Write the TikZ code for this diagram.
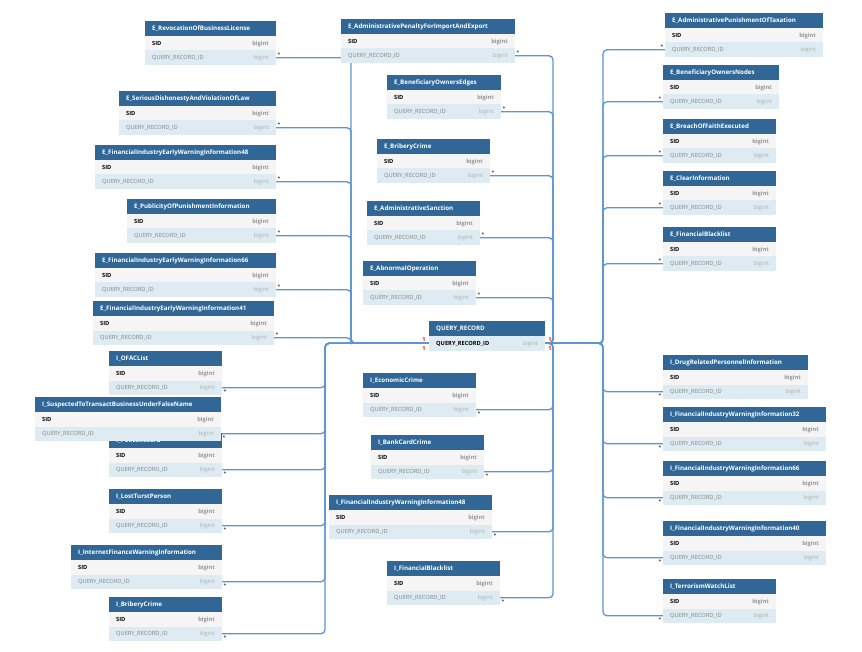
\documentclass[tikz,border=0pt]{standalone}
\usepackage{fontspec}
\setmainfont{Open Sans}
\definecolor{hdrblue}{RGB}{49,103,150}
\definecolor{sidgray}{RGB}{245,245,245}
\definecolor{qrblue}{RGB}{222,235,243}
\definecolor{linkblue}{RGB}{92,150,208}
\definecolor{typegray}{RGB}{150,150,150}
\definecolor{typegray2}{RGB}{175,175,175}
\definecolor{fkgray}{RGB}{130,130,130}
\pgfdeclarelayer{background}
\pgfsetlayers{background,main}
\tikzset{
  hdrbox/.style={fill=hdrblue, anchor=north west, minimum height=15pt, inner sep=0pt, outer sep=0pt},
  sidbox/.style={fill=sidgray, anchor=north west, minimum height=14.5pt, inner sep=0pt, outer sep=0pt},
  qrbox/.style={fill=qrblue, anchor=north west, minimum height=14.5pt, inner sep=0pt, outer sep=0pt},
  htext/.style={anchor=west, xshift=7pt, inner sep=0pt, text=white, text height=4.5pt, text depth=0pt, font=\fontsize{6.2}{7}\selectfont\bfseries},
  ktext/.style={anchor=west, xshift=7pt, inner sep=0pt, text=black, text height=4.1pt, text depth=0pt, font=\fontsize{5.7}{6}\selectfont\bfseries},
  ftext/.style={anchor=west, xshift=7pt, inner sep=0pt, text=fkgray, text height=4.1pt, text depth=0pt, font=\fontsize{5.7}{6}\selectfont},
  ttext/.style={anchor=east, xshift=-7pt, inner sep=0pt, text=typegray, text height=4.1pt, text depth=0pt, font=\fontsize{5.7}{6}\selectfont\bfseries},
  ttextb/.style={anchor=east, xshift=-7pt, inner sep=0pt, text=typegray2, text height=4.1pt, text depth=0pt, font=\fontsize{5.7}{6}\selectfont},
  conn/.style={draw=linkblue, line width=1.3pt, rounded corners=4pt},
  star/.style={inner sep=1pt, text=black, font=\fontsize{5}{6}\selectfont},
  one/.style={inner sep=0pt, text=red, font=\fontsize{5.5}{6}\selectfont\bfseries},
}
\newcommand\ertable[5]{%
  \node[hdrbox, minimum width={(#4-#2)*1pt}] (#1h) at (#2,#3) {};
  \node[sidbox, minimum width={(#4-#2)*1pt}] (#1s) at (#1h.south west) {};
  \node[qrbox, minimum width={(#4-#2)*1pt}] (#1) at (#1s.south west) {};
  \node[htext] at (#1h.west) {#5};
  \node[ktext] at (#1s.west) {SID};
  \node[ttext] at (#1s.east) {bigint};
  \node[ftext] at (#1.west) {QUERY\_RECORD\_ID};
  \node[ttextb] at (#1.east) {bigint};
}
\begin{document}
\begin{tikzpicture}[x=1pt,y=-1pt]
\useasboundingbox (0,0) rectangle (862,652);
% left E tables
\ertable{eRev}{145}{21}{276}{E\_RevocationOfBusinessLicense}
\ertable{eSer}{119}{91}{276}{E\_SeriousDishonestyAndViolationOfLaw}
\ertable{eFa}{95}{145}{276}{E\_FinancialIndustryEarlyWarningInformation48}
\ertable{ePub}{127}{199}{276}{E\_PublicityOfPunishmentInformation}
\ertable{eFb}{95}{253}{276}{E\_FinancialIndustryEarlyWarningInformation66}
\ertable{eFc}{93}{301}{274}{E\_FinancialIndustryEarlyWarningInformation41}
% left I tables
\ertable{iOFAC}{109}{351}{222}{I\_OFACList}
\ertable{iPol}{109}{433}{222}{I\_PoliceRecord}
\ertable{iSus}{35}{397}{221}{I\_SuspectedToTransactBusinessUnderFalseName}
\ertable{iLost}{109}{489}{222}{I\_LostTurstPerson}
\ertable{iInt}{71}{545}{222}{I\_InternetFinanceWarningInformation}
\ertable{iBri}{109}{597}{222}{I\_BriberyCrime}
% middle tables
\ertable{eAdm}{341}{19}{515}{E\_AdministrativePenaltyForImportAndExport}
\ertable{eBen}{387}{75}{501}{E\_BeneficiaryOwnersEdges}
\ertable{eBri}{377}{139}{490}{E\_BriberyCrime}
\ertable{eSan}{367}{201}{480}{E\_AdministrativeSanction}
\ertable{eAbn}{363}{261}{476}{E\_AbnormalOperation}
\ertable{iEco}{363}{373}{476}{I\_EconomicCrime}
\ertable{iBan}{371}{435}{484}{I\_BankCardCrime}
\ertable{iFa}{329}{495}{492}{I\_FinancialIndustryWarningInformation48}
\ertable{iFBl}{387}{561}{500}{I\_FinancialBlacklist}
% query record
\node[hdrbox, minimum width=116pt] (qrh) at (429,321) {};
\node[qrbox, minimum width=116pt] (qr) at (qrh.south west) {};
\node[htext] at (qrh.west) {QUERY\_RECORD};
\node[ktext] at (qr.west) {QUERY\_RECORD\_ID};
\node[ttextb] at (qr.east) {bigint};
% right tables
\ertable{eTax}{665}{13}{823}{E\_AdministrativePunishmentOfTaxation}
\ertable{eBON}{663}{65}{779}{E\_BeneficiaryOwnersNodes}
\ertable{eBoF}{663}{119}{776}{E\_BreachOfFaithExecuted}
\ertable{eCle}{663}{171}{776}{E\_ClearInformation}
\ertable{eFBl}{663}{227}{776}{E\_FinancialBlacklist}
\ertable{iDrug}{663}{355}{808}{I\_DrugRelatedPersonnelInformation}
\ertable{iFd}{663}{407}{826}{I\_FinancialIndustryWarningInformation32}
\ertable{iFe}{663}{461}{826}{I\_FinancialIndustryWarningInformation66}
\ertable{iFf}{663}{521}{826}{I\_FinancialIndustryWarningInformation40}
\ertable{iTer}{663}{579}{776}{I\_TerrorismWatchList}
% cardinality 1
\node[one] at ([xshift=-5pt,yshift=4pt]qr.west) {1};
\node[one] at ([xshift=-5pt,yshift=-5pt]qr.west) {1};
\node[one] at ([xshift=5pt,yshift=4pt]qr.east) {1};
\node[one] at ([xshift=5pt,yshift=-5pt]qr.east) {1};
% connectors
\coordinate (busE) at (351,0);
\coordinate (busI) at (325,0);
\coordinate (busM) at (553,0);
\coordinate (busR) at (603,0);
\begin{pgfonlayer}{background}
\foreach \t in {eRev,eSer,eFa,ePub,eFb,eFc}
  \draw[conn] (\t.east) node[star, anchor=south west] {*} -| (busE |- qr.west) -- (qr.west);
\foreach \t in {iOFAC,iSus,iPol,iLost,iInt,iBri}
  \draw[conn] (\t.east) node[star, anchor=north west] {*} -| (busI |- qr.west) -- (qr.west);
\foreach \t in {eAdm,eBen,eBri,eSan,eAbn}
  \draw[conn] (\t.east) node[star, anchor=south west] {*} -| (busM |- qr.east) -- (qr.east);
\foreach \t in {iEco,iBan,iFa,iFBl}
  \draw[conn] (\t.east) node[star, anchor=north west] {*} -| (busM |- qr.east) -- (qr.east);
\foreach \t in {eTax,eBON,eBoF,eCle,eFBl}
  \draw[conn] (qr.east) -| (busR |- \t.west) -- (\t.west) node[star, anchor=south east] {*};
\foreach \t in {iDrug,iFd,iFe,iFf,iTer}
  \draw[conn] (qr.east) -| (busR |- \t.west) -- (\t.west) node[star, anchor=north east] {*};
\end{pgfonlayer}
\end{tikzpicture}
\end{document}
